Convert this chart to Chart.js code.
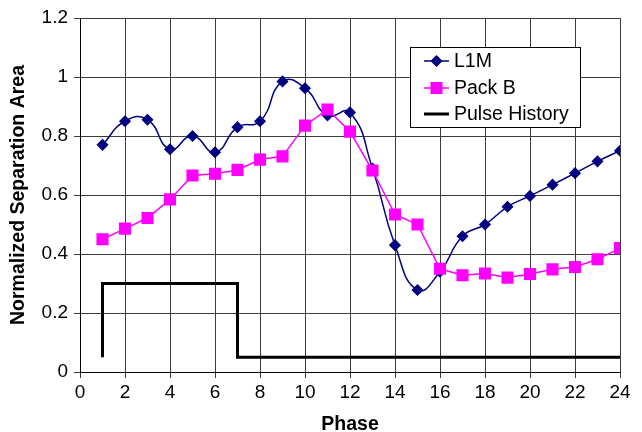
<!DOCTYPE html>
<html>
<head>
<meta charset="utf-8">
<script src="https://cdn.jsdelivr.net/npm/chart.js@4.4.1/dist/chart.umd.min.js"></script>
<style>
  body { margin: 0; background: #fff; }
</style>
</head>
<body>
<canvas id="sepChart" width="642" height="432"></canvas>
<script>
// values
var phases = [1, 2, 3, 4, 5, 6, 7, 8, 9, 10, 11, 12, 13, 14, 15, 16, 17, 18, 19, 20, 21, 22, 23, 24];
var l1m = [0.77, 0.85, 0.855, 0.755, 0.80, 0.745, 0.83, 0.85, 0.985, 0.962, 0.87, 0.88,
           0.69, 0.43, 0.278, 0.34, 0.46, 0.50, 0.56, 0.597, 0.635, 0.674, 0.714, 0.75];
var packB = [0.45, 0.486, 0.522, 0.585, 0.666, 0.672, 0.685, 0.72, 0.731, 0.835, 0.89, 0.815,
             0.683, 0.534, 0.50, 0.35, 0.328, 0.334, 0.32, 0.332, 0.348, 0.356, 0.382, 0.42];
var pulseX = [1, 1, 7, 7, 24];
var pulseY = [0.05, 0.3, 0.3, 0.05, 0.05];
var xTicks = [0, 2, 4, 6, 8, 10, 12, 14, 16, 18, 20, 22, 24];
var yTickLabels = ['0', '0.2', '0.4', '0.6', '0.8', '1', '1.2'];

var FONT = "'Liberation Sans', Arial, sans-serif";

function pairs(xs, ys) {
   return xs.map(function (x, i) { return {x: x, y: ys[i]}; });
}

// legend drawn as a white box inside the plot, like the original
var boxLegend = {
   id: 'boxLegend',
   afterDraw: function (chart) {
      var ctx = chart.ctx;
      var bx = 410, by = 47, bw = 170, bh = 80;
      ctx.save();
      ctx.fillStyle = '#fff';
      ctx.fillRect(bx, by, bw, bh);
      ctx.strokeStyle = '#000';
      ctx.lineWidth = 1;
      ctx.strokeRect(bx + 0.5, by + 0.5, bw, bh);
      var rows = [61, 88, 114];
      chart.data.datasets.forEach(function (ds, i) {
         var y = rows[i];
         ctx.strokeStyle = ds.borderColor;
         ctx.lineWidth = ds.borderWidth;
         ctx.beginPath();
         ctx.moveTo(424, y);
         ctx.lineTo(449, y);
         ctx.stroke();
         if (ds.pointRadius > 0) {
            Chart.helpers.drawPoint(ctx, {
               pointStyle: ds.pointStyle,
               radius: ds.pointRadius,
               rotation: 0,
               borderWidth: 1
            }, 436.5, y);
            ctx.fillStyle = ds.pointBackgroundColor;
            ctx.fill();
         }
         ctx.fillStyle = '#000';
         ctx.font = '19.5px ' + FONT;
         ctx.textBaseline = 'middle';
         ctx.fillText(ds.label, 454, y + 1);
      });
      ctx.restore();
   }
};

var ctx = document.getElementById('sepChart').getContext('2d');
var sepChart = new Chart(ctx, {
   type: 'scatter',
   data: {
      datasets: [
         {
            label: 'L1M',
            data: pairs(phases, l1m),
            showLine: true,
            borderColor: '#000080',
            backgroundColor: '#000080',
            pointBackgroundColor: '#000080',
            pointBorderColor: '#000080',
            borderWidth: 1.5,
            pointStyle: 'rectRot',
            pointRadius: 5,
            tension: 0.5,
            order: 1
         },
         {
            label: 'Pack B',
            data: pairs(phases, packB),
            showLine: true,
            borderColor: '#ff00ff',
            backgroundColor: '#ff00ff',
            pointBackgroundColor: '#ff00ff',
            pointBorderColor: '#ff00ff',
            borderWidth: 1.5,
            pointStyle: 'rect',
            pointRadius: 7.5,
            tension: 0,
            order: 0
         },
         {
            label: 'Pulse History',
            data: pairs(pulseX, pulseY),
            showLine: true,
            borderColor: '#000',
            backgroundColor: '#000',
            pointBackgroundColor: '#000',
            borderWidth: 3,
            pointRadius: 0,
            tension: 0,
            order: 2
         }
      ]
   },
   options: {
      responsive: false,
      animation: false,
      events: [],
      layout: {
         padding: {left: 0, right: 22, top: 18, bottom: 0}
      },
      plugins: {
         legend: {display: false},
         tooltip: {enabled: false}
      },
      scales: {
         x: {
            type: 'linear',
            min: 0,
            max: 24,
            afterBuildTicks: function (scale) {
               scale.ticks = xTicks.map(function (v) { return {value: v}; });
            },
            afterFit: function (scale) { scale.height = 60; },
            grid: {color: '#3c3c3c', lineWidth: 1, tickLength: 6},
            border: {color: '#000', width: 1},
            ticks: {color: '#000', font: {family: FONT, size: 19}, padding: 3, maxRotation: 0},
            title: {
               display: true,
               text: 'Phase',
               color: '#000',
               font: {family: FONT, size: 19.5, weight: 'bold', lineHeight: 1},
               padding: {top: 0, bottom: -2}
            }
         },
         y: {
            min: 0,
            max: 1.2,
            ticks: {
               stepSize: 0.2,
               color: '#000',
               font: {family: FONT, size: 19},
               padding: 6,
               callback: function (v, i) { return yTickLabels[i]; }
            },
            afterFit: function (scale) { scale.width = 80; },
            grid: {color: '#3c3c3c', lineWidth: 1, tickLength: 6},
            border: {color: '#000', width: 1},
            title: {
               display: true,
               text: 'Normalized Separation Area',
               color: '#000',
               font: {family: FONT, size: 19.5, weight: 'bold', lineHeight: 1},
               padding: {top: 9, bottom: 0}
            }
         }
      }
   },
   plugins: [boxLegend]
});
</script>
</body>
</html>
